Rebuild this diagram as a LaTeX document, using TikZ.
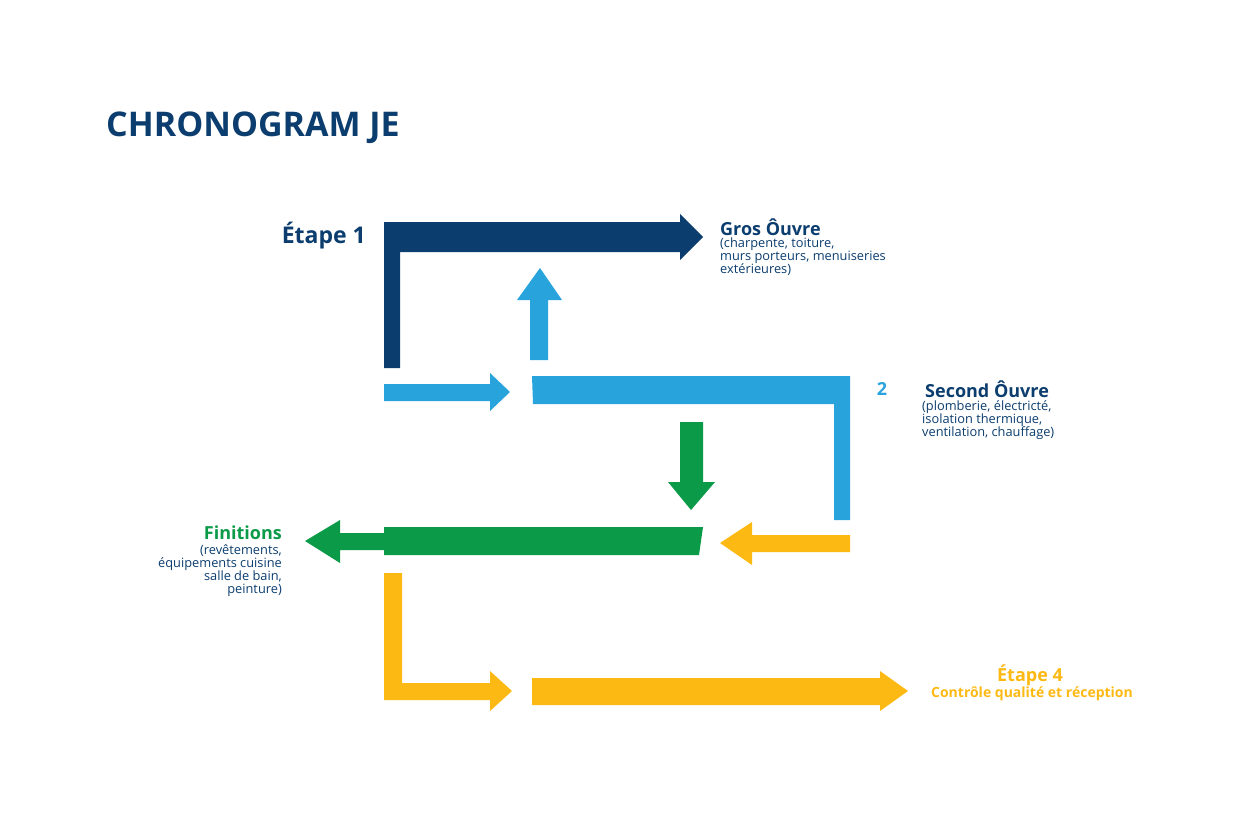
\documentclass[tikz,border=0pt]{standalone}
\usepackage{fontspec}
\setmainfont{Open Sans}
\begin{document}
\begin{tikzpicture}[x=1pt,y=-1pt,
  t/.style={inner sep=0pt,font=\fontsize{12.8}{13}\selectfont,text=dblue,align=left},
  h/.style={inner sep=0pt,font=\bfseries\fontsize{18}{18}\selectfont}]
\definecolor{dblue}{HTML}{0B3D6E}
\definecolor{lblue}{HTML}{29A3DC}
\definecolor{gr}{HTML}{0B9A48}
\definecolor{ye}{HTML}{FDB913}
\useasboundingbox (0,0) rectangle (1248,832);
\node[anchor=west,inner sep=0pt,text=dblue,font=\bfseries\fontsize{34}{34}\selectfont] (title) at (106,128) {CHRONOGRAM JE};
% dark blue L
\fill[dblue] (384,368) -- (384,222) -- (680,222) -- (680,214) -- (703,237) -- (680,260) -- (680,252) -- (400,252) -- (400,368) -- cycle;
% light blue up arrow
\fill[lblue] (530,360) -- (530,300) -- (517,300) -- (540,268) -- (562,300) -- (548,300) -- (548,360) -- cycle;
% light blue right arrow
\fill[lblue] (384,384) -- (490,384) -- (490,373) -- (510,392) -- (490,411) -- (490,401) -- (384,401) -- cycle;
% light blue bracket
\fill[lblue] (532,376) -- (850,376) -- (850,520) -- (834,520) -- (834,404) -- (533,404) -- cycle;
% green down arrow
\fill[gr] (680,422) -- (703,422) -- (703,482) -- (715,482) -- (691,510) -- (668,482) -- (680,482) -- cycle;
% green left arrow
\fill[gr] (384,527) -- (703,527) -- (699,555) -- (384,555) -- cycle;
\fill[gr] (384,533) -- (340,533) -- (340,520) -- (305,541) -- (340,563) -- (340,550) -- (384,550) -- cycle;
% yellow left arrow
\fill[ye] (850,535) -- (752,535) -- (752,522) -- (720,543) -- (752,565) -- (752,552) -- (850,552) -- cycle;
% yellow L
\fill[ye] (384,573) -- (402,573) -- (402,683) -- (490,683) -- (490,671) -- (512,691) -- (490,711) -- (490,700) -- (384,700) -- cycle;
% yellow long arrow
\fill[ye] (532,678) -- (880,678) -- (880,671) -- (908,691) -- (880,711) -- (880,705) -- (532,705) -- cycle;
% texts
\node[h,text=dblue,anchor=east,font=\bfseries\fontsize{23}{23}\selectfont] (e1) at (366,236) {Étape 1};
\node[h,text=dblue,anchor=west] (gros) at (720,227) {Gros Ôuvre};
\node[t,anchor=north west] (grost) at (720,238) {(charpente, toiture,\\murs porteurs, menuiseries\\extérieures)};
\node[h,text=lblue,anchor=center] (n2) at (882,389) {2};
\node[h,text=dblue,anchor=west] (sec) at (925,389) {Second Ôuvre};
\node[t,anchor=north west] (sect) at (922,400) {(plomberie, électricté,\\isolation thermique,\\ventilation, chauffage)};
\node[h,text=gr,anchor=east] (fin) at (282,533) {Finitions};
\node[t,anchor=north east,align=right] (fint) at (282,544) {(revêtements,\\équipements cuisine\\salle de bain,\\peinture)};
\node[h,text=ye,anchor=center] (e4) at (1030,675) {Étape 4};
\node[inner sep=0pt,text=ye,font=\bfseries\fontsize{14}{14}\selectfont] (ctrl) at (1032,694) {Contrôle qualité et réception};
\end{tikzpicture}
\end{document}
